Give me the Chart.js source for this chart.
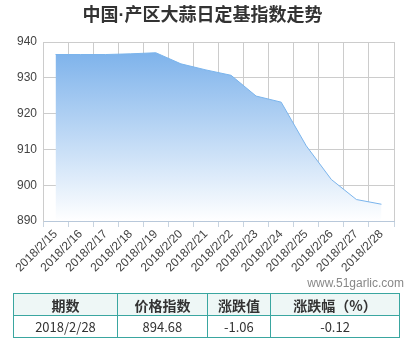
<!DOCTYPE html>
<html><head><meta charset="utf-8">
<script src="https://cdn.jsdelivr.net/npm/chart.js@4/dist/chart.umd.min.js"></script>
<style>
html,body{margin:0;padding:0;background:#fff;width:414px;height:339px;overflow:hidden;}
#title{position:absolute;left:0;top:2px;width:405px;text-align:center;font:bold 18px "Noto Sans CJK SC",sans-serif;color:#333;line-height:22px;}
#title span{font-family:"Liberation Sans",Arial,sans-serif;}
#wrap{position:absolute;left:0;top:0;width:414px;height:290px;}
#wm{position:absolute;right:10px;top:276px;font:12px "Liberation Sans",Arial,sans-serif;color:#888;}
table{position:absolute;left:13px;top:293px;width:387px;border-collapse:collapse;font-family:"Noto Sans CJK SC",sans-serif;font-size:13px;color:#333;}
td,th{border:1px solid #3aa6a0;text-align:center;padding:0;height:21px;line-height:20px;}
th{background:#eef7f6;font-weight:bold;font-size:14px;}
</style></head><body>
<div id="wrap"><canvas id="c" width="414" height="290"></canvas></div>
<div id="title">中国<span>·</span>产区大蒜日定基指数走势</div>
<div id="wm">www.51garlic.com</div>
<table id="t"><tr id="h"></tr><tr id="r"></tr></table>
<script>
const categories = ["2018/2/15","2018/2/16","2018/2/17","2018/2/18","2018/2/19","2018/2/20","2018/2/21","2018/2/22","2018/2/23","2018/2/24","2018/2/25","2018/2/26","2018/2/27","2018/2/28"];
const indexValues = [936.5,936.5,936.5,936.7,937.0,933.9,932.2,930.7,924.9,923.2,911.0,901.6,896.0,894.68];
const yTicks = [890,900,910,920,930,940];
const tableHeaders = ["期数","价格指数","涨跌值","涨跌幅（%）"];
const tableRow = ["2018/2/28","894.68","-1.06","-0.12"];
const colWidths = [104,90,63,130];

const h = document.getElementById('h'), r = document.getElementById('r');
tableHeaders.forEach((t,i)=>{const th=document.createElement('th');th.textContent=t;th.style.width=colWidths[i]+'px';h.appendChild(th);});
tableRow.forEach(t=>{const td=document.createElement('td');td.textContent=t;r.appendChild(td);});

const ctx = document.getElementById('c').getContext('2d');
const fillGrad = (context)=>{
  const ch = context.chart; const a = ch.chartArea;
  if(!a) return 'rgba(120,176,234,0.8)';
  const g = ch.ctx.createLinearGradient(0,a.top,0,a.bottom);
  g.addColorStop(0,'rgba(118,174,234,1)');
  g.addColorStop(1,'rgba(255,255,255,1)');
  return g;
};
new Chart(ctx,{
  type:'line',
  data:{labels:categories,datasets:[{data:indexValues,borderColor:'#7ab4ec',borderWidth:1,pointRadius:0,tension:0,fill:'start',backgroundColor:fillGrad}]},
  options:{
    responsive:false,animation:false,
    layout:{padding:{top:42,right:20,left:0,bottom:0}},
    plugins:{legend:{display:false},tooltip:{enabled:false}},
    scales:{
      x:{offset:true,
        grid:{offset:true,color:'#cccccc',tickLength:6,drawTicks:true,tickColor:'#c8d4e0'},
        border:{color:'#b8c8da'},
        ticks:{maxRotation:45,minRotation:45,autoSkip:false,color:'#444',font:{family:'Liberation Sans',size:12},padding:0},
        afterFit:(s)=>{s.height=69;}
      },
      y:{min:890,max:940,
        afterBuildTicks:(s)=>{s.ticks=yTicks.map(v=>({value:v}));},
        grid:{color:'#cccccc',drawTicks:false},
        border:{color:'#cccccc'},
        ticks:{color:'#444',font:{family:'Liberation Sans',size:12},padding:6},
        afterFit:(s)=>{s.width=43;}
      }
    }
  }
});
</script>
</body></html>
